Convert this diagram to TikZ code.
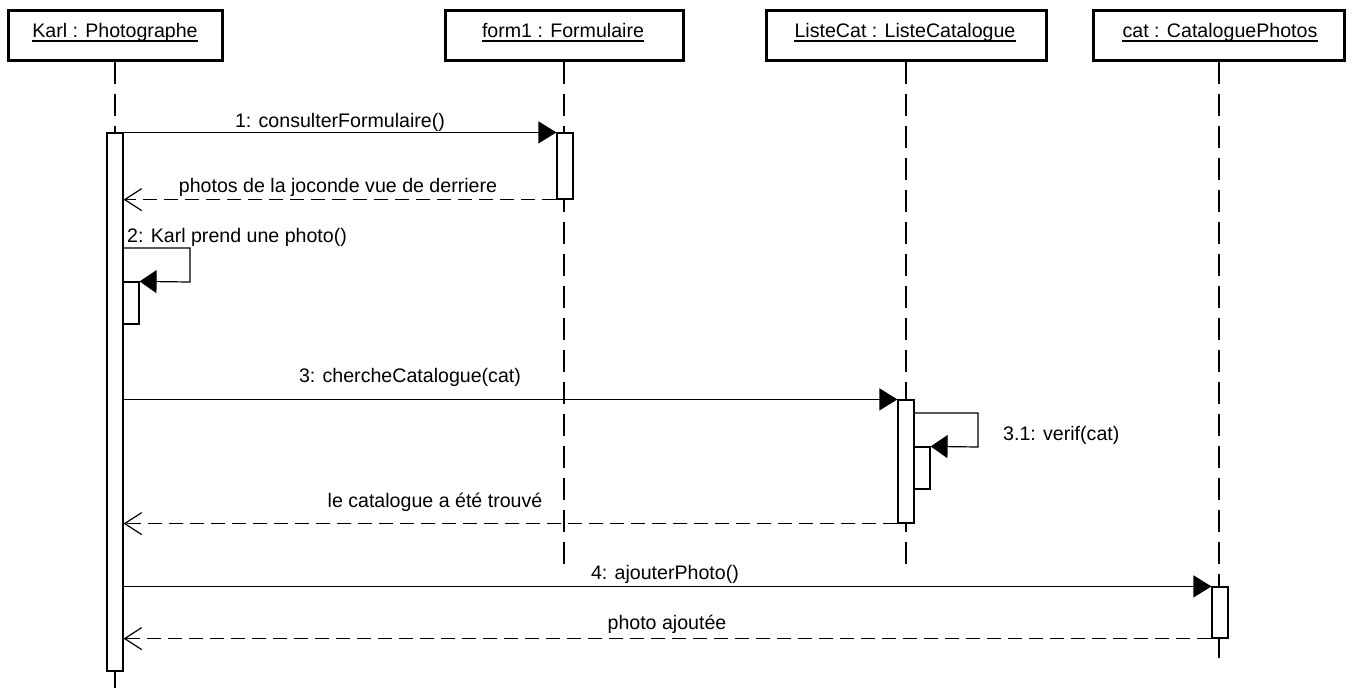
\documentclass[tikz,border=0pt]{standalone}
\usepackage{fontspec}
\setmainfont{Liberation Sans}
\usetikzlibrary{arrows.meta}
\begin{document}
\begin{tikzpicture}[x=1pt,y=-1pt,
  every node/.style={font=\fontsize{19.6}{22}\selectfont, inner sep=0pt},
  obj/.style={draw, line width=3pt, minimum height=50pt, fill=white},
  life/.style={line width=1.1pt, dash pattern=on 22pt off 10pt},
  act/.style={draw, line width=1.2pt, fill=white, minimum width=16pt},
  msg/.style={line width=1.2pt, -{Triangle[length=18pt,width=22pt]}},
  selfmsg/.style={line width=1.2pt, -{Triangle[length=17pt,width=23pt]}},
  ret/.style={line width=1.2pt, dash pattern=on 14pt off 7pt, -{Straight Barb[length=17pt,width=22pt,line width=1.2pt]}},
  lbl/.style={anchor=base},
  lblw/.style={anchor=base west},
  uline/.style={line width=1.1pt}]
\useasboundingbox (0,0) rectangle (1353,688);
\fill[white] (0,0) rectangle (1353,688);

% object boxes
\node[obj, minimum width=214pt] (karl) at (115,35) {};
\node[obj, minimum width=238pt] (form) at (564,35) {};
\node[obj, minimum width=280pt] (liste) at (906,35) {};
\node[obj, minimum width=251pt] (cat) at (1219,35) {};
\node[lbl] (karlT) at (115,37) {Karl : Photographe};
\node[lbl] (formT) at (563,37) {form1 : Formulaire};
\node[lbl] (listeT) at (905,37) {ListeCat : ListeCatalogue};
\node[lbl] (catT) at (1220,37) {cat : CataloguePhotos};
\foreach \t in {karlT,formT,listeT,catT}
  \draw[uline] ([yshift=-4pt]\t.base west) -- ([yshift=-4pt]\t.base east);

% lifelines
\coordinate (karlE) at (115,688);
\coordinate (formE) at (564,567);
\coordinate (listeE) at (906,567);
\coordinate (catE) at (1219,658);
\draw[life] (karl.south) -- (karlE);
\draw[life] (form.south) -- (formE);
\draw[life] (liste.south) -- (listeE);
\draw[life] (cat.south) -- (catE);

% activations
\node[act, minimum height=538pt] (aK) at (115,402) {};
\node[act, minimum height=66pt] (aF) at (565,166) {};
\node[act, minimum height=42pt] (aK2) at (131,303) {};
\node[act, minimum height=123pt] (aL) at (906,461.5) {};
\node[act, minimum height=42pt] (aL2) at (922,468) {};
\node[act, minimum height=51pt] (aC) at (1220,612.5) {};

% message 1
\draw[msg] (aK.north east) -- (aF.north west);
\node[lbl] (m1) at (340,127) {1: consulterFormulaire()};
\draw[ret] (aF.south west) -- (aK.east |- aF.south west);
\node[lbl] (r1) at (338,192) {photos de la joconde vue de derriere};

% message 2 (self)
\coordinate (s2) at (aK.east |- 0,248);
\coordinate (s2a) at (190,248);
\coordinate (s2b) at (190,282);
\draw[selfmsg] (s2) -- (s2a) -- (s2b) -- (aK2.north east);
\node[lblw] (m2) at (127,242) {2: Karl prend une photo()};

% message 3
\draw[msg] (aK.east |- aL.north) -- (aL.north west);
\node[lbl] (m3) at (410,382) {3: chercheCatalogue(cat)};
\coordinate (s3) at (aL.east |- 0,413);
\coordinate (s3a) at (978,413);
\coordinate (s3b) at (978,447);
\draw[selfmsg] (s3) -- (s3a) -- (s3b) -- (aL2.north east);
\node[lblw] (m31) at (1003,440) {3.1: verif(cat)};
\draw[ret] (aL.south west) -- (aK.east |- aL.south west);
\node[lbl] (r3) at (435,507) {le catalogue a été trouvé};

% message 4
\draw[msg] (aK.east |- aC.north) -- (aC.north west);
\node[lbl] (m4) at (665,579) {4: ajouterPhoto()};
\draw[ret] (aC.south west) -- (aK.east |- aC.south west);
\node[lbl] (r4) at (667,629) {photo ajoutée};
\end{tikzpicture}
\end{document}
